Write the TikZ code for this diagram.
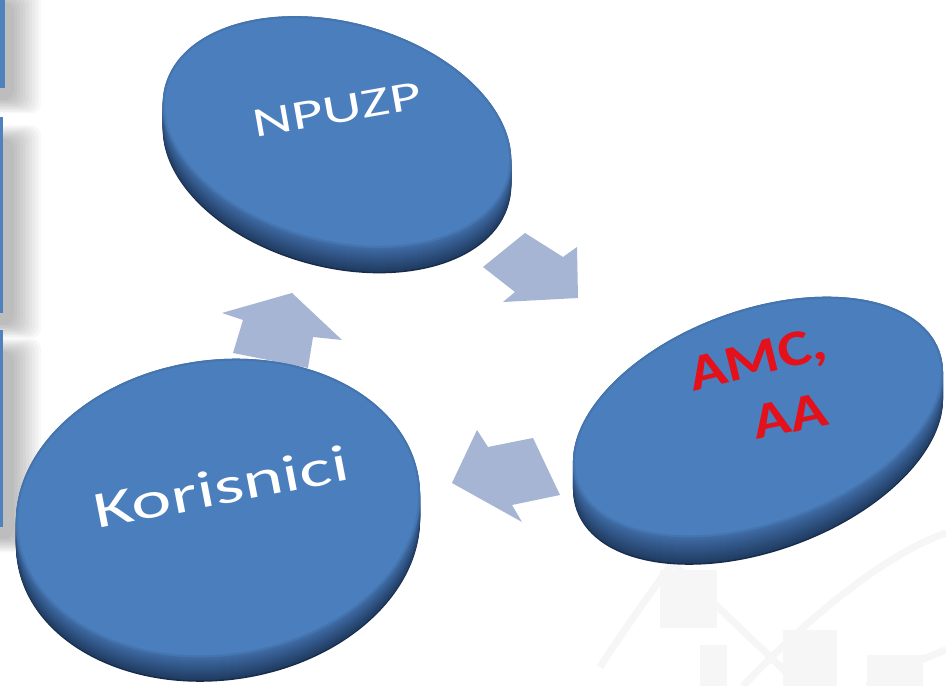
\documentclass[tikz,border=0pt]{standalone}
\usepackage{fontspec}
\setmainfont{Carlito}
\definecolor{faceC}{RGB}{74,126,188}
\definecolor{sideL}{RGB}{64,108,166}
\definecolor{sideD}{RGB}{32,60,98}
\definecolor{rimD}{RGB}{24,44,74}
\definecolor{arrowC}{RGB}{166,181,212}
\definecolor{redT}{RGB}{228,16,26}
\definecolor{edgeBlue}{RGB}{79,129,189}
\definecolor{faint}{RGB}{246,246,246}
\newcommand{\discdraw}[6]{%
  \fill[rimD, rotate around={#5:(#1,#2-#6-1.5)}] (#1,#2-#6-1.5) ellipse [x radius=#3, y radius=#4];
  \foreach \k in {0,...,#6}{%
    \pgfmathsetmacro\ss{#6-\k}%
    \pgfmathtruncatemacro\pp{100*\ss/#6}%
    \fill[sideD!\pp!sideL, rotate around={#5:(#1,#2-\ss)}] (#1,#2-\ss) ellipse [x radius=#3, y radius=#4];
  }%
  \fill[faceC, rotate around={#5:(#1,#2)}] (#1,#2) ellipse [x radius=#3, y radius=#4];
  \draw[faceC!80!black, line width=2, opacity=.35, rotate around={#5:(#1,#2)}] (#1,#2) ellipse [x radius=#3-1, y radius=#4-1];
}
\tikzset{
  whitelabel/.style={inner sep=0pt, text=white},
  redlabel/.style={inner sep=0pt, text=redT, font=\bfseries},
  blockarrow/.style={fill=arrowC},
  faintline/.style={draw=faint, line width=7pt},
}
\begin{document}
\begin{tikzpicture}[x=1pt,y=1pt]
\useasboundingbox (0,0) rectangle (946,686);
\fill[white] (0,0) rectangle (946,686);
% faint background shapes
\fill[faint] (660,58) rectangle (717,116);
\fill[faint] (700,0) rectangle (727,41);
\fill[faint] (783,0) rectangle (837,56);
\fill[faint] (867,0) rectangle (923,31);
\draw[faintline] (600,19) .. controls (630,65) and (655,100) .. (700,160);
\draw[faintline] (667,129) .. controls (710,85) and (760,40) .. (800,0);
\draw[faintline] (743,0) .. controls (800,60) and (880,130) .. (946,153);
\draw[faintline] (867,0) .. controls (900,18) and (925,28) .. (946,36);
% left-edge shadows
\foreach \T/\B in {-20/88,117/313,330/527}{
  \foreach \i in {0,...,9}{
    \fill[black, opacity=.028, rounded corners=10pt] (-20,686-\B-12-1.5*\i) rectangle (14+3*\i,686-\T-22+1.5*\i);
  }
}
\fill[edgeBlue] (-10,598) rectangle (5,686);
\fill[edgeBlue] (-10,373) rectangle (2.5,569);
\fill[edgeBlue] (-10,159) rectangle (2.5,356);
% block arrows
\fill[blockarrow] (525,453) -- (563,429) -- (577,439) -- (578,388) -- (503,384) -- (515,394) -- (483,419) -- cycle;
\fill[blockarrow] (533,248) -- (560,191) -- (512,181) -- (522,164) -- (452,203) -- (477,256) -- (488,239) -- cycle;
\fill[blockarrow] (292,393) -- (342,346) -- (313,349) -- (308,318) -- (233,333) -- (243,366) -- (222,373) -- cycle;
% discs
\discdraw{337}{554}{178}{110}{-15}{24}
\discdraw{758}{269}{193}{107}{20}{26}
\discdraw{218}{178}{203}{148}{8}{23}
% texts
\node[whitelabel, rotate=10] (npuzp) at (337,576) {\scalebox{1}[0.68]{\fontsize{61}{61}\selectfont NPUZP}};
\node[whitelabel, rotate=11] (kor) at (221,199) {\scalebox{1}[0.68]{\fontsize{76}{76}\selectfont Korisnici}};
\node[redlabel, rotate=14] (amc) at (758,324) {\scalebox{1}[0.82]{\fontsize{62}{62}\selectfont AMC,}};
\node[redlabel, rotate=12] (aa) at (790,270) {\scalebox{1}[0.82]{\fontsize{62}{62}\selectfont AA}};
\end{tikzpicture}
\end{document}
